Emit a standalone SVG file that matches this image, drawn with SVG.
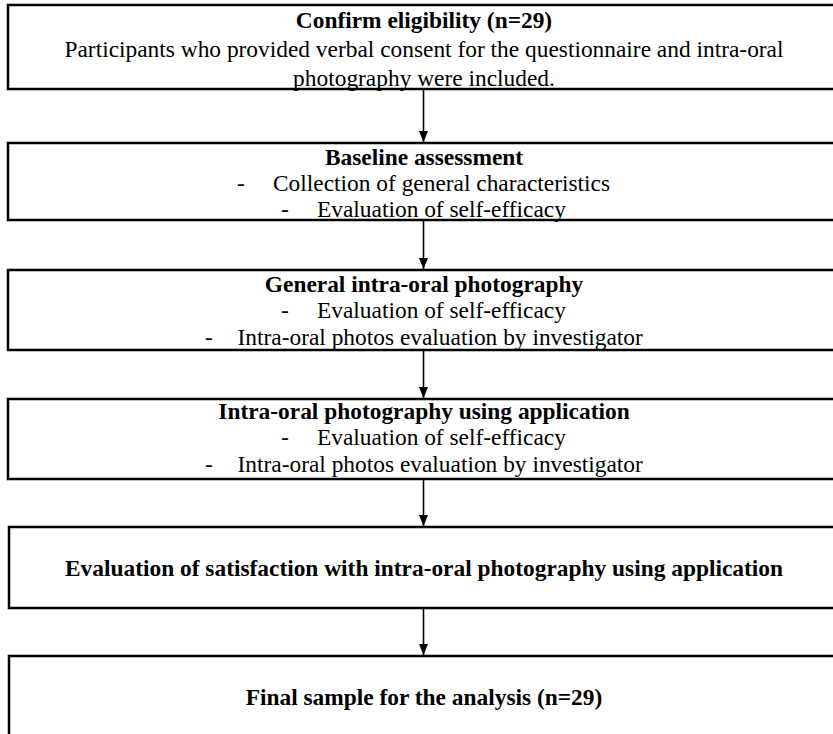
<svg xmlns="http://www.w3.org/2000/svg" width="833" height="734" viewBox="0 0 833 734">
<style>
  .box { fill: #ffffff; stroke: #000000; stroke-width: 2.5; }
  .t { font-family: "Liberation Serif", "Times New Roman", serif; font-size: 23.4px; fill: #000000; }
  .b { font-weight: bold; }
  .c { text-anchor: middle; }
  .conn { stroke: #000000; stroke-width: 1.6; fill: none; }
</style>
<defs>
  <marker id="arr" markerUnits="userSpaceOnUse" markerWidth="10" markerHeight="11" refX="11" refY="5" orient="auto">
    <path d="M0,0.5 L11,5 L0,9.5 z" fill="#000000"/>
  </marker>
</defs>
<rect width="833" height="734" fill="#ffffff"/>

<g id="connectors">
  <line class="conn" x1="423.5" y1="90" x2="423.5" y2="142" marker-end="url(#arr)"/>
  <line class="conn" x1="423.5" y1="220" x2="423.5" y2="269" marker-end="url(#arr)"/>
  <line class="conn" x1="423.5" y1="350" x2="423.5" y2="398" marker-end="url(#arr)"/>
  <line class="conn" x1="423.5" y1="480" x2="423.5" y2="526" marker-end="url(#arr)"/>
  <line class="conn" x1="423.5" y1="609" x2="423.5" y2="655" marker-end="url(#arr)"/>
</g>

<g id="node-eligibility">
  <rect class="box" x="8" y="5" width="845" height="84"/>
  <text class="t b c" x="424" y="27.5">Confirm eligibility (n=29)</text>
  <text class="t c" x="424" y="56.5">Participants who provided verbal consent for the questionnaire and intra-oral</text>
  <text class="t c" x="424" y="85.5">photography were included.</text>
</g>

<g id="node-baseline">
  <rect class="box" x="8" y="143" width="845" height="77"/>
  <text class="t b c" x="424" y="164.5">Baseline assessment</text>
  <text class="t" x="237" y="190.5">-</text>
  <text class="t" x="273" y="190.5">Collection of general characteristics</text>
  <text class="t" x="281" y="216.5">-</text>
  <text class="t" x="317" y="216.5">Evaluation of self-efficacy</text>
</g>

<g id="node-general-photo">
  <rect class="box" x="8" y="270" width="845" height="80"/>
  <text class="t b c" x="424" y="291.5">General intra-oral photography</text>
  <text class="t" x="281" y="317.5">-</text>
  <text class="t" x="317" y="317.5">Evaluation of self-efficacy</text>
  <text class="t" x="205" y="344.5">-</text>
  <text class="t" x="237.5" y="344.5">Intra-oral photos evaluation by investigator</text>
</g>

<g id="node-app-photo">
  <rect class="box" x="8" y="399" width="845" height="80"/>
  <text class="t b c" x="424" y="419">Intra-oral photography using application</text>
  <text class="t" x="281" y="445">-</text>
  <text class="t" x="317" y="445">Evaluation of self-efficacy</text>
  <text class="t" x="205" y="472">-</text>
  <text class="t" x="237.5" y="472">Intra-oral photos evaluation by investigator</text>
</g>

<g id="node-satisfaction">
  <rect class="box" x="9" y="527" width="845" height="81"/>
  <text class="t b c" x="424" y="575.5">Evaluation of satisfaction with intra-oral photography using application</text>
</g>

<g id="node-final">
  <rect class="box" x="9" y="656" width="845" height="100"/>
  <text class="t b c" x="424" y="704.5">Final sample for the analysis (n=29)</text>
</g>
</svg>
